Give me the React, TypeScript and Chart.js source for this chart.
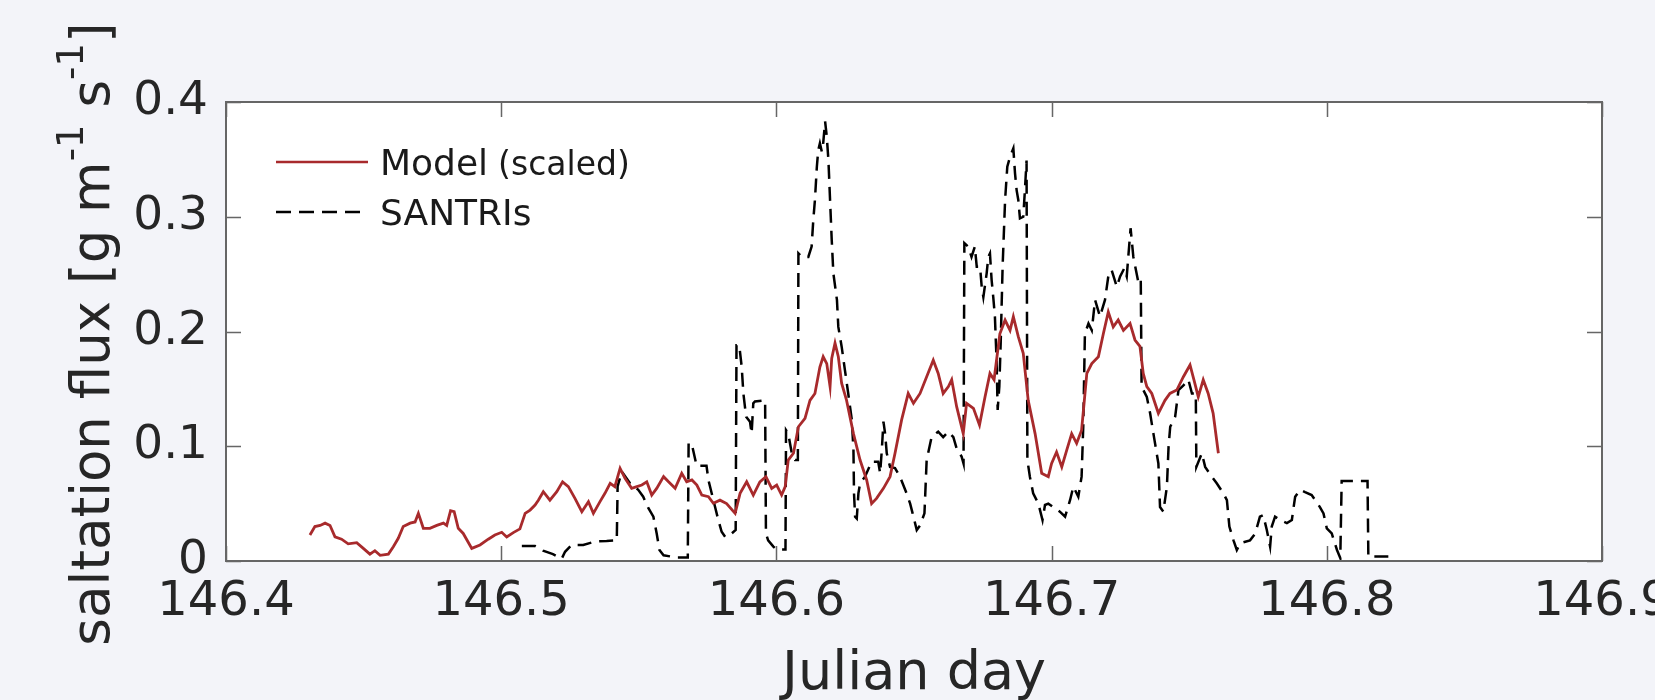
import React, { useEffect, useRef } from "react";
import { Chart, registerables } from "chart.js";

Chart.register(...registerables);

// ---------- data ----------
const xTicks = [146.4, 146.5, 146.6, 146.7, 146.8, 146.9];
const yTicks = [0, 0.1, 0.2, 0.3, 0.4];

const modelDays = [
  146.4305, 146.4323, 146.4342, 146.436, 146.4378, 146.4396, 146.442, 146.4444, 146.4475, 146.4499,
  146.4523, 146.4541, 146.456, 146.459, 146.4608, 146.4626, 146.4644, 146.4669, 146.4687, 146.4699,
  146.4717, 146.4741, 146.4766, 146.479, 146.4802, 146.4816, 146.4829, 146.4844, 146.4862, 146.4893,
  146.4923, 146.4953, 146.4977, 146.5002, 146.502, 146.5044, 146.5068, 146.5087, 146.5105, 146.5123,
  146.5135, 146.5153, 146.5177, 146.5202, 146.5223, 146.5244, 146.5268, 146.5293, 146.5317, 146.5335,
  146.5359, 146.5377, 146.5396, 146.5413, 146.5432, 146.545, 146.5474, 146.5493, 146.5511, 146.5529,
  146.5547, 146.5565, 146.559, 146.5608, 146.5632, 146.5656, 146.5674, 146.5693, 146.5711, 146.5729,
  146.5753, 146.5771, 146.5795, 146.5819, 146.585, 146.5868, 146.5892, 146.5916, 146.594, 146.5962,
  146.5983, 146.6001, 146.6019, 146.6032, 146.6043, 146.6062, 146.608, 146.6104, 146.6122, 146.614,
  146.6158, 146.617, 146.6183, 146.6195, 146.6201, 146.6213, 146.6225, 146.6237, 146.6255, 146.628,
  146.6304, 146.6328, 146.6346, 146.6364, 146.6389, 146.6413, 146.6431, 146.6455, 146.6479, 146.6498,
  146.6522, 146.6546, 146.657, 146.6588, 146.6606, 146.6625, 146.6637, 146.6655, 146.6679, 146.6691,
  146.6716, 146.6738, 146.6758, 146.6776, 146.6791, 146.6812, 146.6831, 146.6849, 146.6861, 146.6879,
  146.6897, 146.6915, 146.694, 146.6964, 146.6988, 146.7, 146.7018, 146.7037, 146.7055, 146.7073,
  146.7091, 146.7109, 146.7128, 146.7146, 146.717, 146.7188, 146.7206, 146.7224, 146.7242, 146.7261,
  146.7285, 146.7303, 146.7321, 146.7333, 146.7346, 146.7364, 146.7388, 146.7412, 146.743, 146.7455,
  146.7479, 146.7503, 146.7517, 146.7533, 146.7551, 146.7569, 146.7587, 146.7606,
];
const modelFlux = [
  0.0227, 0.03, 0.031, 0.033, 0.031, 0.021, 0.019, 0.015, 0.016, 0.011,
  0.006, 0.009, 0.005, 0.006, 0.0125, 0.0198, 0.03, 0.033, 0.034, 0.0415,
  0.0285, 0.0285, 0.031, 0.033, 0.031, 0.0439, 0.043, 0.0285, 0.024, 0.011,
  0.014, 0.019, 0.0227, 0.025, 0.021, 0.0247, 0.028, 0.0415, 0.0444, 0.0488,
  0.053, 0.0604, 0.053, 0.0604, 0.069, 0.0648, 0.0546, 0.043, 0.0517, 0.0415,
  0.0517, 0.059, 0.0677, 0.0648, 0.0808, 0.072, 0.0633, 0.0648, 0.0662, 0.069,
  0.0575, 0.0633, 0.0735, 0.069, 0.0633, 0.0764, 0.069, 0.0706, 0.0662, 0.0575,
  0.056, 0.0503, 0.053, 0.05, 0.0415, 0.059, 0.069, 0.0575, 0.069, 0.0735,
  0.0633, 0.0662, 0.0575, 0.0648, 0.088, 0.0939, 0.117, 0.1244, 0.14, 0.146,
  0.169, 0.178, 0.172, 0.152, 0.1766, 0.19, 0.178, 0.155, 0.14, 0.111,
  0.088, 0.0706, 0.05, 0.0546, 0.0633, 0.0735, 0.0939, 0.123, 0.146, 0.1374,
  0.146, 0.1606, 0.175, 0.1635, 0.146, 0.152, 0.158, 0.1345, 0.111, 0.1374,
  0.133, 0.1185, 0.143, 0.1635, 0.158, 0.198, 0.21, 0.201, 0.213, 0.1955,
  0.181, 0.14, 0.111, 0.0764, 0.0735, 0.085, 0.095, 0.082, 0.0967, 0.111,
  0.1026, 0.114, 0.1635, 0.172, 0.178, 0.198, 0.217, 0.204, 0.21, 0.201,
  0.207, 0.1926, 0.187, 0.1635, 0.152, 0.146, 0.1287, 0.14, 0.146, 0.149,
  0.1606, 0.1708, 0.158, 0.143, 0.158, 0.146, 0.1287, 0.0939,
];

const santriDays = [
  146.5075, 146.5123, 146.5152, 146.5188, 146.522, 146.5232, 146.5256, 146.5298, 146.5341, 146.5383,
  146.542, 146.5423, 146.5438, 146.5468, 146.5498, 146.5516, 146.5535, 146.5553, 146.5565, 146.5575,
  146.559, 146.5638, 146.5678, 146.5681, 146.5692, 146.571, 146.5746, 146.5753, 146.5771, 146.5789,
  146.5801, 146.5814, 146.5831, 146.5852, 146.5855, 146.5865, 146.5874, 146.588, 146.589, 146.5904,
  146.591, 146.5916, 146.5922, 146.5959, 146.5962, 146.597, 146.5989, 146.6, 146.6033, 146.6035,
  146.6043, 146.6056, 146.6068, 146.6078, 146.608, 146.6092, 146.6116, 146.6128, 146.6134, 146.614,
  146.6147, 146.6152, 146.6158, 146.6165, 146.617, 146.6177, 146.6183, 146.6189, 146.6195, 146.6201,
  146.6207, 146.622, 146.6225, 146.6237, 146.6249, 146.6261, 146.6274, 146.628, 146.6282, 146.6286,
  146.6292, 146.6298, 146.6304, 146.6322, 146.6346, 146.637, 146.6377, 146.6383, 146.6389, 146.6395,
  146.6401, 146.6413, 146.6431, 146.6449, 146.6473, 146.6486, 146.6495, 146.651, 146.6522, 146.6538,
  146.6546, 146.6564, 146.6588, 146.6606, 146.6625, 146.6643, 146.6655, 146.6673, 146.668, 146.6683,
  146.6697, 146.6709, 146.6721, 146.6728, 146.674, 146.6746, 146.6752, 146.6764, 146.677, 146.6776,
  146.6782, 146.6788, 146.6794, 146.68, 146.6804, 146.681, 146.6815, 146.6822, 146.6831, 146.6839,
  146.6849, 146.6861, 146.6867, 146.6873, 146.6879, 146.6885, 146.6897, 146.6903, 146.6909, 146.6912,
  146.6921, 146.6933, 146.6952, 146.6967, 146.6976, 146.6988, 146.703, 146.7049, 146.7067, 146.7079,
  146.7097, 146.7109, 146.7115, 146.7121, 146.7134, 146.7146, 146.7158, 146.7176, 146.7194, 146.7206,
  146.7218, 146.7237, 146.7249, 146.7264, 146.7273, 146.7287, 146.7297, 146.7316, 146.7324, 146.7327,
  146.7346, 146.7358, 146.737, 146.7388, 146.7394, 146.7406, 146.7419, 146.7425, 146.7431, 146.7449,
  146.7461, 146.7479, 146.7497, 146.751, 146.7524, 146.7526, 146.7546, 146.7558, 146.7582, 146.76,
  146.7624, 146.7637, 146.7646, 146.7661, 146.7673, 146.7685, 146.7721, 146.774, 146.7757, 146.7769,
  146.7782, 146.7794, 146.78, 146.7812, 146.783, 146.7855, 146.7873, 146.7878, 146.7885, 146.7903,
  146.7921, 146.7945, 146.7975, 146.7988, 146.8, 146.8018, 146.8037, 146.8049, 146.8054, 146.8148,
  146.8151, 146.8199, 146.8236,
];
const santriFlux = [
  0.013, 0.013, 0.009, 0.006, 0.002, 0.008, 0.014, 0.014, 0.017, 0.0174,
  0.018, 0.065, 0.078, 0.0677, 0.062, 0.056, 0.046, 0.0386, 0.024, 0.0096,
  0.005, 0.003, 0.003, 0.1026, 0.1026, 0.083, 0.083, 0.0706, 0.053, 0.0357,
  0.0255, 0.021, 0.0227, 0.027, 0.188, 0.188, 0.169, 0.146, 0.1257, 0.1214,
  0.111, 0.1374, 0.139, 0.14, 0.024, 0.018, 0.0125, 0.01, 0.01, 0.114,
  0.111, 0.0939, 0.088, 0.088, 0.268, 0.265, 0.265, 0.274, 0.297, 0.3146,
  0.3436, 0.358, 0.364, 0.3567, 0.364, 0.383, 0.37, 0.3495, 0.3146, 0.28,
  0.2507, 0.2275, 0.204, 0.187, 0.1664, 0.146, 0.123, 0.0967, 0.059, 0.0386,
  0.037, 0.059, 0.0677, 0.0735, 0.0865, 0.0865, 0.0764, 0.0967, 0.1214, 0.111,
  0.0939, 0.082, 0.081, 0.0735, 0.059, 0.05, 0.0415, 0.027, 0.031, 0.0415,
  0.088, 0.108, 0.1127, 0.108, 0.1127, 0.108, 0.098, 0.091, 0.085, 0.277,
  0.274, 0.265, 0.274, 0.2565, 0.2565, 0.239, 0.23, 0.2507, 0.265, 0.268,
  0.245, 0.23, 0.213, 0.175, 0.1316, 0.152, 0.19, 0.2565, 0.3146, 0.3436,
  0.3523, 0.3596, 0.338, 0.323, 0.3146, 0.2986, 0.3, 0.323, 0.349, 0.088,
  0.0735, 0.059, 0.05, 0.0357, 0.0488, 0.05, 0.043, 0.0386, 0.053, 0.0648,
  0.056, 0.0735, 0.117, 0.198, 0.207, 0.201, 0.2275, 0.213, 0.2275, 0.248,
  0.2536, 0.239, 0.248, 0.255, 0.248, 0.29, 0.265, 0.242, 0.2449, 0.152,
  0.143, 0.1287, 0.111, 0.085, 0.047, 0.043, 0.0648, 0.0996, 0.117, 0.1257,
  0.149, 0.153, 0.158, 0.146, 0.146, 0.082, 0.0939, 0.082, 0.0735, 0.0677,
  0.059, 0.053, 0.03, 0.018, 0.0096, 0.0154, 0.018, 0.024, 0.0386, 0.04,
  0.027, 0.0125, 0.03, 0.0386, 0.0357, 0.033, 0.0357, 0.0444, 0.056, 0.062,
  0.06, 0.0575, 0.047, 0.0415, 0.0285, 0.024, 0.0096, 0.0026, 0.0697, 0.0697,
  0.004, 0.004, 0.004,
];

const legendLabels = ["Model", "(scaled)", "SANTRIs"];
const yTitleParts = ["saltation flux [g m", "-1", " s", "-1", "]"];
const xTitle = "Julian day";

// ---------- styling ----------
const W = 1655;
const H = 700;
const FONT = "'DejaVu Sans', sans-serif";
const BG = "#f3f4f9";
const RED = "#a82a2c";
const TEXT = "#262626";

const decoPlugin = {
  id: "deco",
  beforeDraw(chart: any) {
    const { ctx, chartArea } = chart;
    ctx.save();
    ctx.fillStyle = BG;
    ctx.fillRect(0, 0, chart.width, chart.height);
    ctx.fillStyle = "#ffffff";
    ctx.fillRect(chartArea.left, chartArea.top, chartArea.right - chartArea.left, chartArea.bottom - chartArea.top);
    ctx.restore();
  },
  afterDraw(chart: any) {
    const { ctx, chartArea } = chart;
    const xs = chart.scales.x;
    const ys = chart.scales.y;
    const L = chartArea.left, R = chartArea.right, T = chartArea.top, B = chartArea.bottom;
    ctx.save();
    // ticks (inside, all four sides)
    ctx.strokeStyle = "#666666";
    ctx.lineWidth = 1.5;
    ctx.beginPath();
    const tl = 15;
    xTicks.forEach((v) => {
      const px = Math.round(xs.getPixelForValue(v)) + 0.5;
      ctx.moveTo(px, B);
      ctx.lineTo(px, B - tl);
      ctx.moveTo(px, T);
      ctx.lineTo(px, T + tl);
    });
    yTicks.forEach((v) => {
      const py = Math.round(ys.getPixelForValue(v)) + 0.5;
      ctx.moveTo(L, py);
      ctx.lineTo(L + tl, py);
      ctx.moveTo(R, py);
      ctx.lineTo(R - tl, py);
    });
    ctx.stroke();
    // frame
    ctx.lineWidth = 2;
    ctx.strokeRect(L, T, R - L, B - T);

    // legend
    ctx.lineWidth = 2.5;
    ctx.strokeStyle = RED;
    ctx.beginPath();
    ctx.moveTo(276, 162);
    ctx.lineTo(368, 162);
    ctx.stroke();
    ctx.strokeStyle = "#000000";
    ctx.setLineDash([15, 8]);
    ctx.beginPath();
    ctx.moveTo(276, 212);
    ctx.lineTo(360, 212);
    ctx.stroke();
    ctx.setLineDash([]);
    ctx.fillStyle = "#1a1a1a";
    ctx.textBaseline = "alphabetic";
    ctx.textAlign = "left";
    ctx.font = `36px ${FONT}`;
    ctx.fillText(legendLabels[0], 380, 175);
    const mw = ctx.measureText(legendLabels[0]).width;
    ctx.font = `33px ${FONT}`;
    ctx.fillText(legendLabels[1], 380 + mw + 10, 175);
    ctx.font = `36px ${FONT}`;
    ctx.fillText(legendLabels[2], 380, 225);

    // x title
    ctx.fillStyle = TEXT;
    ctx.font = `54px ${FONT}`;
    ctx.textAlign = "center";
    ctx.fillText(xTitle, (L + R) / 2, 689);

    // y title with superscripts
    const big = 53, small = 37, raise = 26;
    const sizes = [big, small, big, small, big];
    const widths = yTitleParts.map((s, i) => {
      ctx.font = `${sizes[i]}px ${FONT}`;
      return ctx.measureText(s).width;
    });
    const total = widths.reduce((a, b) => a + b, 0);
    ctx.translate(109, 334);
    ctx.rotate(-Math.PI / 2);
    ctx.textAlign = "left";
    let cx = -total / 2;
    yTitleParts.forEach((s, i) => {
      ctx.font = `${sizes[i]}px ${FONT}`;
      ctx.fillText(s, cx, sizes[i] === small ? -raise : 0);
      cx += widths[i];
    });
    ctx.restore();
  },
};

export default function App() {
  const ref = useRef<HTMLCanvasElement | null>(null);
  useEffect(() => {
    if (!ref.current) return;
    const chart = new Chart(ref.current, {
      type: "line",
      data: {
        datasets: [
          {
            label: "Model (scaled)",
            data: modelDays.map((d, i) => ({ x: d, y: modelFlux[i] })),
            borderColor: RED,
            borderWidth: 2.8,
            pointRadius: 0,
            tension: 0,
            fill: false,
          },
          {
            label: "SANTRIs",
            data: santriDays.map((d, i) => ({ x: d, y: santriFlux[i] })),
            borderColor: "#000000",
            borderWidth: 2.5,
            borderDash: [14, 8],
            pointRadius: 0,
            tension: 0,
            fill: false,
          },
        ],
      },
      options: {
        responsive: false,
        animation: false,
        events: [],
        layout: { padding: { left: 0, right: 53, top: 102, bottom: 0 }, autoPadding: false },
        plugins: { legend: { display: false }, tooltip: { enabled: false }, title: { display: false } },
        scales: {
          x: {
            type: "linear",
            min: 146.4,
            max: 146.9,
            grid: { display: false, drawTicks: false },
            border: { display: false },
            afterBuildTicks: (s: any) => {
              s.ticks = xTicks.map((v) => ({ value: v }));
            },
            afterFit: (s: any) => {
              s.height = 139;
              s.paddingLeft = 0;
              s.paddingRight = 0;
            },
            ticks: {
              padding: 13,
              maxRotation: 0,
              autoSkip: false,
              color: TEXT,
              font: { family: FONT, size: 48 },
              callback: (v: any) => Number(v).toFixed(1),
            },
          },
          y: {
            type: "linear",
            min: 0,
            max: 0.4,
            grid: { display: false, drawTicks: false },
            border: { display: false },
            afterBuildTicks: (s: any) => {
              s.ticks = yTicks.map((v) => ({ value: v }));
            },
            afterFit: (s: any) => {
              s.width = 226;
              s.paddingTop = 0;
              s.paddingBottom = 0;
            },
            ticks: {
              padding: 18,
              autoSkip: false,
              color: TEXT,
              font: { family: FONT, size: 47 },
              callback: (v: any) => (Number(v) === 0 ? "0" : Number(v).toFixed(1)),
            },
          },
        },
      },
      plugins: [decoPlugin],
    });
    return () => chart.destroy();
  }, []);
  return (
    <div style={{ position: "fixed", left: 0, top: 0, width: W, height: H, background: BG }}>
      <canvas ref={ref} width={W} height={H} style={{ display: "block", width: W, height: H }} />
    </div>
  );
}
